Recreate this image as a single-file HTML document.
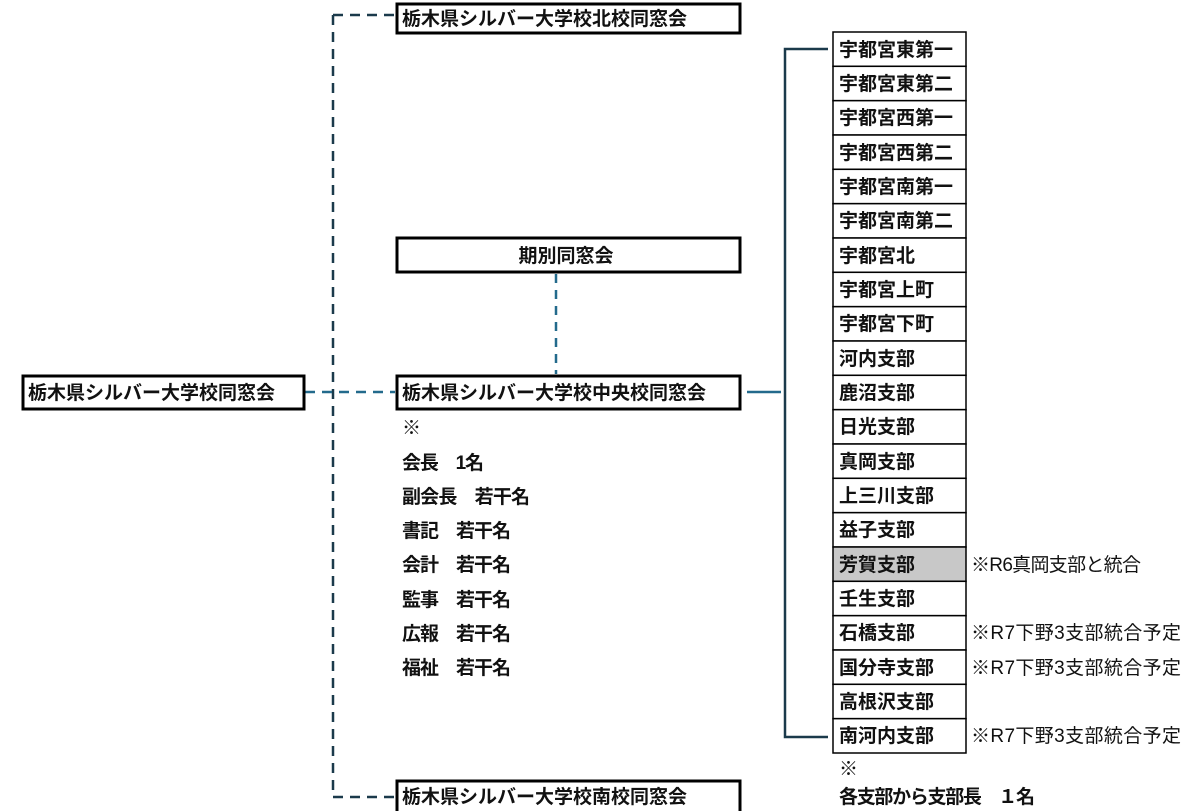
<!DOCTYPE html>
<html><head><meta charset="utf-8"><style>
html,body{margin:0;padding:0;background:#fff;}
svg{display:block;}
text{font-family:"Liberation Sans","Noto Sans CJK JP",sans-serif;font-weight:bold;font-size:19px;fill:#111;}
.n{font-weight:normal;}
</style></head><body>
<svg width="1200" height="811" viewBox="0 0 1200 811" xmlns="http://www.w3.org/2000/svg">
<g fill="none" stroke-width="2.5">
<path d="M333 15 V797" stroke="#1b3a4b" stroke-dasharray="10 7"/>
<path d="M333 15 H395" stroke="#1b3a4b" stroke-dasharray="10 7"/>
<path d="M333 797 H395" stroke="#1b3a4b" stroke-dasharray="10 7"/>
<path d="M305 392 H395" stroke="#236a8c" stroke-dasharray="10 7"/>
<path d="M556 274 V374" stroke="#236a8c" stroke-dasharray="9 7"/>
<path d="M747 392 H781" stroke="#236a8c"/>
<path d="M828 49 H785 V737 H828" stroke="#1b3a4b"/>
</g>
<g fill="#fff" stroke="#000" stroke-width="3">
<rect x="23" y="376" width="281" height="33"/>
<rect x="397" y="4" width="343" height="29"/>
<rect x="397" y="238" width="343" height="34"/>
<rect x="397" y="376" width="343" height="33"/>
<rect x="397" y="781" width="343" height="32"/>
</g>
<text x="28" y="399">栃木県シルバー大学校同窓会</text>
<text x="402" y="25">栃木県シルバー大学校北校同窓会</text>
<text x="566" y="262" text-anchor="middle">期別同窓会</text>
<text x="402" y="399">栃木県シルバー大学校中央校同窓会</text>
<text x="402" y="803">栃木県シルバー大学校南校同窓会</text>
<text x="402" y="434" class="n">※</text>
<text x="402" y="469" textLength="82">会長　1名</text>
<text x="402" y="503" textLength="128">副会長　若干名</text>
<text x="402" y="537" textLength="109">書記　若干名</text>
<text x="402" y="571" textLength="109">会計　若干名</text>
<text x="402" y="606" textLength="109">監事　若干名</text>
<text x="402" y="640" textLength="109">広報　若干名</text>
<text x="402" y="674" textLength="109">福祉　若干名</text>
<g stroke="#000" stroke-width="1.5">
<rect x="833" y="32" width="133" height="34.33" fill="#fff"/>
<rect x="833" y="66.33" width="133" height="34.33" fill="#fff"/>
<rect x="833" y="100.67" width="133" height="34.33" fill="#fff"/>
<rect x="833" y="135" width="133" height="34.33" fill="#fff"/>
<rect x="833" y="169.33" width="133" height="34.33" fill="#fff"/>
<rect x="833" y="203.67" width="133" height="34.33" fill="#fff"/>
<rect x="833" y="238" width="133" height="34.33" fill="#fff"/>
<rect x="833" y="272.33" width="133" height="34.33" fill="#fff"/>
<rect x="833" y="306.67" width="133" height="34.33" fill="#fff"/>
<rect x="833" y="341" width="133" height="34.33" fill="#fff"/>
<rect x="833" y="375.33" width="133" height="34.33" fill="#fff"/>
<rect x="833" y="409.67" width="133" height="34.33" fill="#fff"/>
<rect x="833" y="444" width="133" height="34.33" fill="#fff"/>
<rect x="833" y="478.33" width="133" height="34.33" fill="#fff"/>
<rect x="833" y="512.67" width="133" height="34.33" fill="#fff"/>
<rect x="833" y="547" width="133" height="34.33" fill="#c8c8c8"/>
<rect x="833" y="581.33" width="133" height="34.33" fill="#fff"/>
<rect x="833" y="615.67" width="133" height="34.33" fill="#fff"/>
<rect x="833" y="650" width="133" height="34.33" fill="#fff"/>
<rect x="833" y="684.33" width="133" height="34.33" fill="#fff"/>
<rect x="833" y="718.67" width="133" height="34.33" fill="#fff"/>
</g>
<g>
<text x="839" y="56">宇都宮東第一</text>
<text x="839" y="90">宇都宮東第二</text>
<text x="839" y="124">宇都宮西第一</text>
<text x="839" y="159">宇都宮西第二</text>
<text x="839" y="193">宇都宮南第一</text>
<text x="839" y="227">宇都宮南第二</text>
<text x="839" y="262">宇都宮北</text>
<text x="839" y="296">宇都宮上町</text>
<text x="839" y="330">宇都宮下町</text>
<text x="839" y="365">河内支部</text>
<text x="839" y="399">鹿沼支部</text>
<text x="839" y="433">日光支部</text>
<text x="839" y="468">真岡支部</text>
<text x="839" y="502">上三川支部</text>
<text x="839" y="536">益子支部</text>
<text x="839" y="571">芳賀支部</text>
<text x="839" y="605">壬生支部</text>
<text x="839" y="639">石橋支部</text>
<text x="839" y="674">国分寺支部</text>
<text x="839" y="708">高根沢支部</text>
<text x="839" y="742">南河内支部</text>
</g>
<text x="971" y="571" class="n" textLength="170">※R6真岡支部と統合</text>
<text x="971" y="639" class="n" textLength="210">※R7下野3支部統合予定</text>
<text x="971" y="674" class="n" textLength="210">※R7下野3支部統合予定</text>
<text x="971" y="742" class="n" textLength="210">※R7下野3支部統合予定</text>
<text x="839" y="775" class="n">※</text>
<text x="839" y="803" textLength="196">各支部から支部長　１名</text>
</svg>
</body></html>
